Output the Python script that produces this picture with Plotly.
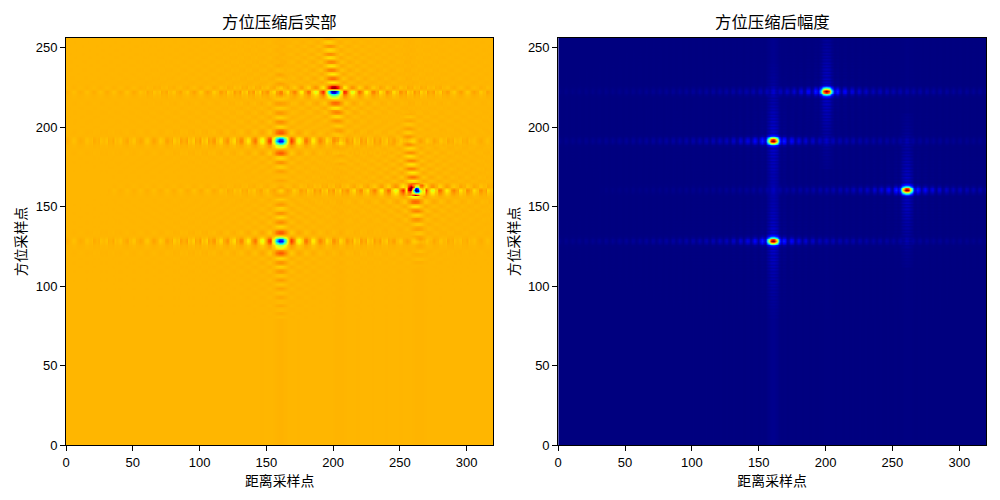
import numpy as np
import plotly.graph_objects as go

# Point targets in (range sample, azimuth sample)
target_range = [160, 160, 200, 260]
target_azimuth = [128, 191, 222, 160]
target_real_gain = [0.85, 0.85, 1.0, 1.0]
target_real_skew = [0.0, 0.0, 0.12, 0.12]
target_real_tilted = [False, False, True, True]
target_amp_tail = [0.006, 0.006, 0.002, 0.003]

# Compressed magnitude cut along range, one value per sample away from the peak
range_cut_amp = [
    1.0, .96, .84, .64, .4, .2, .07, .1, .16, .13, .06, .02, .05, .1, .11, .08, .03, .02, .06, .085,
    .07, .03, .012, .04, .07, .065, .03, .012, .03, .055, .06, .035, .012, .02, .045, .05, .03, .012, .02, .04,
    .048, .035, .012, .015, .035, .045, .03, .01, .015, .035, .04, .03, .01, .012, .03, .038, .028, .01, .012, .028,
    .036, .026, .008, .012, .027, .034, .024, .008, .01, .025, .032, .022, .008, .01, .024, .03, .02, .007, .01, .023,
    .028, .02, .006, .01, .022, .027, .018, .006, .009, .02, .026, .017, .006, .008, .019, .025, .016, .006, .008, .018,
    .023, .015, .005, .008, .017, .022, .014, .005, .007, .016, .021, .014, .005, .007, .015, .02, .013, .004, .007, .014,
    .019, .012, .004, .006, .014, .018, .012, .004, .006, .013, .017, .011, .004, .006, .012, .016, .01, .003, .005, .011,
    .015, .01, .003, .005, .01, .014, .009, .003, .005, .01,
    .013, .009, .003, .004, .009, .013, .008, .003, .004, .009, .012, .008, .002, .004, .008, .012, .007, .002, .004, .008,
    .011, .007, .002, .003, .008, .011, .007, .002, .003, .007, .01, .006, .002, .003, .007, .01, .006, .002, .003, .006,
    .009, .006, .002, .003, .006, .009, .005, .002, .003, .006, .008, .005, .002, .002, .005, .008, .005, .001, .002, .005,
    .007, .004, .001, .002, .005, .007, .004, .001, .002, .004, .006, .004, .001, .002, .004, .006, .003, .001, .002, .003,
]
# Offsets of the nulls, where the real part changes sign between lobes
range_nulls = [6.5, 11.5, 17.5, 22.5, 27.5, 33.5, 38.5, 43.5, 48.5, 54.5, 59.5, 64.5, 69.5, 75.5, 80.5, 86.5,
               91.5, 97.5, 102.5, 108.5, 113.5, 118.5, 124.5, 129.5, 135.5, 140.5, 146.5, 152.5, 157.5, 162.5,
               167.5, 172.5, 177.5, 182.5, 187.5, 192.5, 197.5, 202.5, 207.5, 212.5, 217.5, 222.5, 227.5]
# Side lobes stand out more in the real part than in the magnitude
range_real_lobe_gain = 1.35

# Compressed magnitude cut along azimuth
azimuth_cut_amp = [
    1.0, .86, .47, .18, .07, .04, .055, .035, .055, .03, .05, .03, .05, .028, .045, .026, .042, .024, .04, .022,
    .034, .02, .032, .018, .03, .016, .027, .015, .025, .014, .023, .013, .021, .012, .019, .011, .017, .01, .015, .01,
    .014, .009, .012, .008, .011, .008, .01, .007, .009,
]

# Real-part cuts along azimuth, upward and downward from the peak
azimuth_real_up = [
    -1.0, -.86, -.45, -.08, .1, .16, .14, .07, -.03, -.06, -.02, .05, .07, .03, -.04, -.05, -.01, .04, .05, .01,
    -.03, -.04, 0, .04, .04, .01, -.03, -.03, 0, .03, .03, .01, -.02, -.02, 0, .02, .03, .01, -.01, -.02,
    0, .02, .02, 0, -.01, -.01, 0, .01, .01,
]
azimuth_real_down = [
    -1.0, -.85, -.5, -.25, -.16, -.06, .06, .14, .16, .08, -.03, -.06, -.01, .05, .06, 0, -.05, -.03, .02, .05,
    .03, -.02, -.03, -.01, .03, .04, 0, -.03, -.02, .01, .03, .01, -.02, -.02, 0, .02, .02, -.01, -.01, -.01,
    .01, .02, 0, -.01, -.01, .01, .01, 0, -.01,
]
azimuth_real_tilt_up = [
    -1.0, -.3, .36, .3, .1, -.04, -.08, .02, .1, .08, -.03, -.08, -.03, .07, .08, -.02, -.07, -.04, .06, .07,
    -.01, -.06, -.04, .05, .06, -.01, -.05, -.03, .04, .05, -.01, -.04, -.02, .03, .04, 0, -.03, -.02, .03, .03,
    0, -.02, -.02, .02, .02, 0, -.02, -.01, .01,
]
azimuth_real_tilt_down = [
    -1.0, -.85, -.5, -.25, -.12, -.04, .06, .12, .1, 0, -.07, -.05, .05, .08, .04, -.04, -.05, -.01, .05, .05,
    .01, -.03, -.03, .01, .03, .03, -.01, -.02, -.02, .02, .02, .01, -.02, -.02, 0, .01, .01, 0, -.01, -.01,
    .01, .01, 0, -.01, -.01, .01, .01, 0, 0,
]
azimuth_tail_real = 0.003
skew_limit = 4

# Real part around the target near (261, 160): rows run from 3 above to 3 below, columns from -7 to +7
patch_column = 261
patch_row = 160
patch_real = [
    [-.02, .02, .1, .18, .2, .12, .04, -.02, -.06, -.05, .02, .1, .12, .06, .01],
    [-.04, .02, .18, .32, .38, .3, .1, -.12, -.3, -.25, -.05, .05, .06, .02, -.02],
    [-.08, .03, .26, .39, .39, .2, -.2, -.65, -.85, -.65, -.25, -.05, -.02, -.03, -.06],
    [-.1, .05, .26, .39, .3, -.05, -.6, -1.0, -1.0, -.9, -.55, -.25, -.08, -.06, -.1],
    [-.08, .02, .15, .22, .1, -.12, -.45, -.8, -1.0, -.9, -.6, -.28, -.1, -.08, -.12],
    [-.03, .01, .06, .08, .02, -.06, -.15, -.25, -.3, -.28, -.2, -.12, -.08, -.06, -.06],
    [.01, .02, .04, .05, .06, .14, .25, .33, .3, .2, .06, -.02, -.03, -.02, -.01],
]

n_range = 320
n_azimuth = 256
x_ticks = [0, 50, 100, 150, 200, 250, 300]
y_ticks = [0, 50, 100, 150, 200, 250]
titles = ["方位压缩后实部", "方位压缩后幅度"]
x_label = "距离采样点"
y_label = "方位采样点"

# matplotlib's jet as explicit stops
jet = [
    [0.0, "#00007f"], [0.11, "#0000ff"], [0.125, "#0000ff"], [0.34, "#00dbff"], [0.35, "#00e6f7"],
    [0.375, "#14ffe2"], [0.64, "#eeff08"], [0.65, "#f7f500"], [0.66, "#ffec00"], [0.89, "#ff1400"],
    [0.91, "#e80000"], [1.0, "#7f0000"],
]


def pick(cut, offsets, tail=0.0):
    table = np.array(list(cut) + [tail])
    return table[np.clip(offsets, 0, len(cut))]


range_cut_real = [
    v * (-1) ** sum(i > n for n in range_nulls) * (range_real_lobe_gain if i > range_nulls[0] else 1.0)
    for i, v in enumerate(range_cut_amp)
]

cols, rows = np.meshgrid(np.arange(n_range), np.arange(n_azimuth))
amp = np.zeros((n_azimuth, n_range))
real = np.zeros((n_azimuth, n_range))

for x0, y0, gain, skew, tilted, tail in zip(target_range, target_azimuth, target_real_gain,
                                            target_real_skew, target_real_tilted, target_amp_tail):
    dy = rows - y0
    amp += pick(range_cut_amp, np.abs(cols - x0)) * pick(azimuth_cut_amp, np.abs(dy), tail)

    up = azimuth_real_tilt_up if tilted else azimuth_real_up
    down = azimuth_real_tilt_down if tilted else azimuth_real_down
    az = np.where(dy >= 0, pick(up, np.abs(dy), azimuth_tail_real), pick(down, np.abs(dy), azimuth_tail_real))
    dx = np.rint(cols - x0 + np.clip(skew * dy, -skew_limit, skew_limit)).astype(int)
    real += gain * pick(range_cut_real, np.abs(dx)) * az

# Finer structure next to the tilted target
patch = np.array(patch_real)[::-1]
p_rows, p_cols = patch.shape
real[patch_row - p_rows // 2:patch_row + p_rows // 2 + 1,
     patch_column - p_cols // 2:patch_column + p_cols // 2 + 1] = patch

x_centres = np.arange(n_range) + 0.5
y_centres = np.arange(n_azimuth) + 0.5

fig = go.Figure()
fig.add_trace(go.Heatmap(x=x_centres, y=y_centres, z=np.round(real, 3), colorscale=jet, zmin=-1, zmax=0.393,
                         zsmooth="best", showscale=False, xaxis="x", yaxis="y"))
fig.add_trace(go.Heatmap(x=x_centres, y=y_centres, z=np.round(np.clip(amp, 0, 1), 3), colorscale=jet, zmin=0, zmax=1,
                         zsmooth="best", showscale=False, xaxis="x2", yaxis="y2"))

cjk = "Noto Sans CJK SC"
axis_common = dict(
    showgrid=False, zeroline=False, showline=True, mirror=True, linecolor="black", linewidth=1,
    ticks="outside", ticklen=5, tickwidth=1, tickcolor="black",
    tickfont=dict(family="Liberation Sans", size=13, color="black"),
)
x_common = dict(axis_common, range=[0, n_range], tickvals=x_ticks,
                title=dict(text=x_label, font=dict(family=cjk, size=13.9, color="black"), standoff=1))
y_common = dict(axis_common, range=[0, n_azimuth], tickvals=y_ticks,
                title=dict(text=y_label, font=dict(family=cjk, size=13.9, color="black"), standoff=5))

fig.update_layout(
    width=1000, height=500, autosize=False, margin=dict(l=65.5, r=14, t=38, b=55),
    paper_bgcolor="white", plot_bgcolor="white",
    xaxis=dict(x_common, domain=[0.0, 0.4644], anchor="y"),
    yaxis=dict(y_common, domain=[0.0, 1.0], anchor="x"),
    xaxis2=dict(x_common, domain=[0.535, 1.0], anchor="y2"),
    yaxis2=dict(y_common, domain=[0.0, 1.0], anchor="x2"),
    annotations=[
        dict(text=titles[0], xref="paper", yref="paper", x=0.2322, y=1.0, xanchor="center", yanchor="bottom",
             yshift=3, showarrow=False, font=dict(family=cjk, size=16.4, color="black")),
        dict(text=titles[1], xref="paper", yref="paper", x=0.7675, y=1.0, xanchor="center", yanchor="bottom",
             yshift=3, showarrow=False, font=dict(family=cjk, size=16.4, color="black")),
    ],
)

fig.write_html("out.html")
